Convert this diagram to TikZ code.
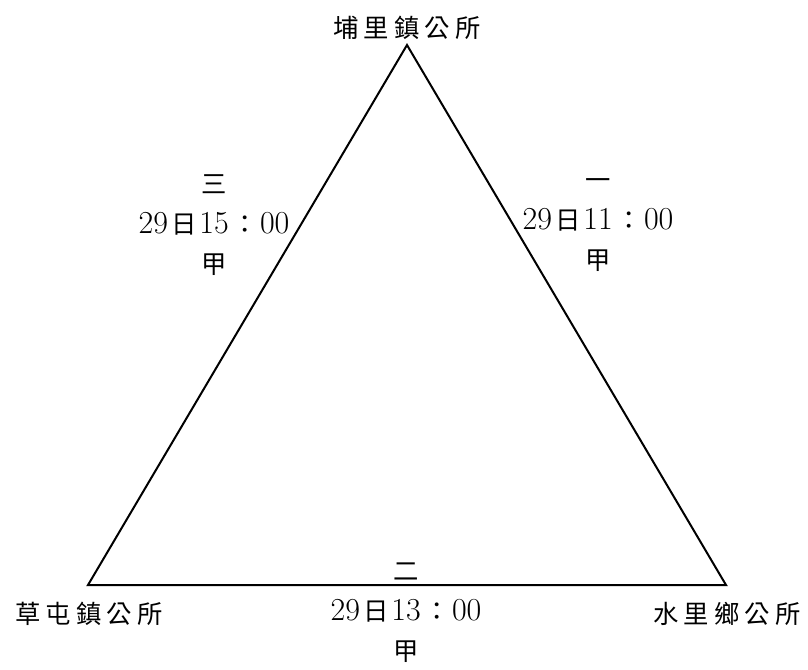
\documentclass[tikz,border=0pt]{standalone}
\usepackage{fontspec}
\usepackage{tikz}
\usetikzlibrary{positioning}
\newfontfamily\cjk[LetterSpace=20]{Noto Sans CJK TC}
\newcommand{\zh}[1]{{\fontsize{19}{30}\selectfont\cjk #1}}
\newcommand{\zhmid}[1]{\kern2.5pt{\fontsize{19}{30}\selectfont\cjk #1}\kern2pt}

\begin{document}
\begin{tikzpicture}[x=0.75pt,y=-0.75pt,
    side/.style={line width=1.5pt, line join=miter},
    place/.style={font=\fontsize{19}{30}\selectfont\cjk, inner sep=0pt},
    edgelabel/.style={align=center, inner sep=0pt, font=\fontsize{24}{30}\selectfont}]
    \useasboundingbox (0,0) rectangle (808,669);
    % Vertices
    \coordinate (puli) at (407,45);
    \coordinate (caotun) at (88,585);
    \coordinate (shuili) at (726,585);
    % Triangle
    \draw[side] (puli) -- (shuili) -- (caotun) -- cycle;
    % Places
    \node[place] (puliname) at (407,28) {埔里鎮公所};
    \node[place] (caotunname) at (89,614) {草屯鎮公所};
    \node[place] (shuiliname) at (727,614) {水里鄉公所};
    % Legs
    \node[edgelabel] (legone) at (598,225) {\zh{一}\\29\zhmid{日}11\zhmid{：}00\\\zh{甲}};
    \node[edgelabel] (legtwo) at (406,613) {\zh{二}\\29\zhmid{日}13\zhmid{：}00\\\zh{甲}};
    \node[edgelabel] (legthree) at (214,225) {\zh{三}\\29\zhmid{日}15\zhmid{：}00\\\zh{甲}};
  \end{tikzpicture}
\end{document}
